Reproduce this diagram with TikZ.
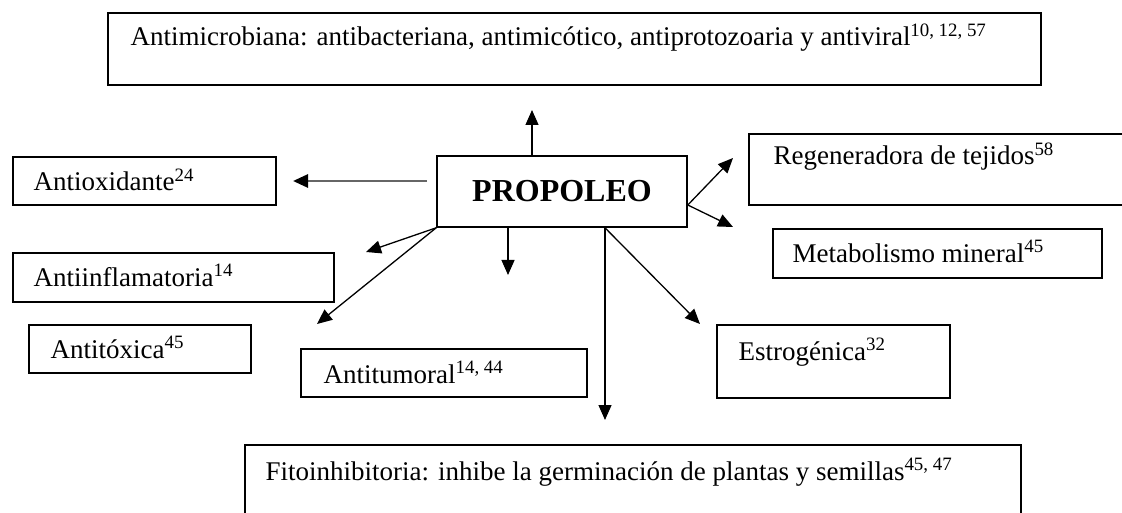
\documentclass[tikz,border=0pt]{standalone}
\usepackage{fontspec}
\setmainfont{Liberation Serif}
\usetikzlibrary{arrows.meta,positioning}

\begin{document}
\begin{tikzpicture}[x=1pt,y=-1pt,line width=1.3pt,
  >={Triangle[length=15pt,width=13pt]},
  box/.style={draw,line width=1.6pt,anchor=north west,inner sep=0pt},
  lbl/.style={anchor=base west,inner sep=0pt,font=\fontsize{27}{32}\selectfont}]
   \useasboundingbox (0,0) rectangle (1122,513);
   % boxes
   \node[box,minimum width=933pt,minimum height=72pt] (micro) at (107,12) {};
   \node[draw,line width=1.6pt,inner sep=0pt,minimum width=250pt,minimum height=71pt,
         font=\bfseries\fontsize{32}{36}\selectfont] (propoleo) at (562,191.5) {PROPOLEO};
   \node[box,minimum width=263pt,minimum height=48pt] (antiox) at (12,156) {};
   \node[box,minimum width=321pt,minimum height=49pt] (inflam) at (12,252) {};
   \node[box,minimum width=222pt,minimum height=48pt] (toxica) at (28,324) {};
   \node[box,minimum width=286pt,minimum height=48pt] (tumor) at (300,348) {};
   \node[box,minimum width=400pt,minimum height=71pt] (regen) at (748,133) {};
   \node[box,minimum width=329pt,minimum height=49pt] (mineral) at (772,228) {};
   \node[box,minimum width=233pt,minimum height=73pt] (estrog) at (716,324) {};
   \node[box,minimum width=776pt,minimum height=90pt] (fito) at (244,444) {};
   % labels
   \node[lbl] (microtxt) at (130,46) {Antimicrobiana: antibacteriana, antimicótico, antiprotozoaria y antiviral\textsuperscript{10, 12, 57}};
   \node[lbl] (antioxtxt) at (33,191) {Antioxidante\textsuperscript{24}};
   \node[lbl] (inflamtxt) at (33,286) {Antiinflamatoria\textsuperscript{14}};
   \node[lbl] (toxicatxt) at (50,358) {Antitóxica\textsuperscript{45}};
   \node[lbl] (tumortxt) at (323,383) {Antitumoral\textsuperscript{14, 44}};
   \node[lbl] (regentxt) at (773,165) {Regeneradora de tejidos\textsuperscript{58}};
   \node[lbl] (mineraltxt) at (792,262) {Metabolismo mineral\textsuperscript{45}};
   \node[lbl] (estrogtxt) at (738,360) {Estrogénica\textsuperscript{32}};
   \node[lbl] (fitotxt) at (265,480) {Fitoinhibitoria: inhibe la germinación de plantas y semillas\textsuperscript{45, 47}};
   % arrow ends
   \coordinate (upend) at (532,110);
   \coordinate (oxend) at (293,181);
   \coordinate (inflamend) at (366,252);
   \coordinate (toxend) at (317,324);
   \coordinate (downend) at (508,275);
   \coordinate (fitoend) at (605,420);
   \coordinate (estrogend) at (700,324);
   \coordinate (regenend) at (733,158);
   \coordinate (mineralend) at (733,227);
   \coordinate (split) at (propoleo.south -| fitoend);
   \coordinate (fork) at ([yshift=-13.5pt]propoleo.east);
   \draw[->] (propoleo.north -| upend) -- (upend);
   \draw[gray!80!black,line width=2.8pt,shorten <=9pt,
         -{Triangle[length=15pt,width=13pt,black]}] (propoleo.west |- oxend) -- (oxend);
   \draw[->] (propoleo.south west) -- (inflamend);
   \draw[->] (propoleo.south west) -- (toxend);
   \draw[->] (propoleo.south -| downend) -- (downend);
   \draw[->] (split) -- (fitoend);
   \draw[->] (split) -- (estrogend);
   \draw[->] (fork) -- (regenend);
   \draw[->] (fork) -- (mineralend);
\end{tikzpicture}
\end{document}
